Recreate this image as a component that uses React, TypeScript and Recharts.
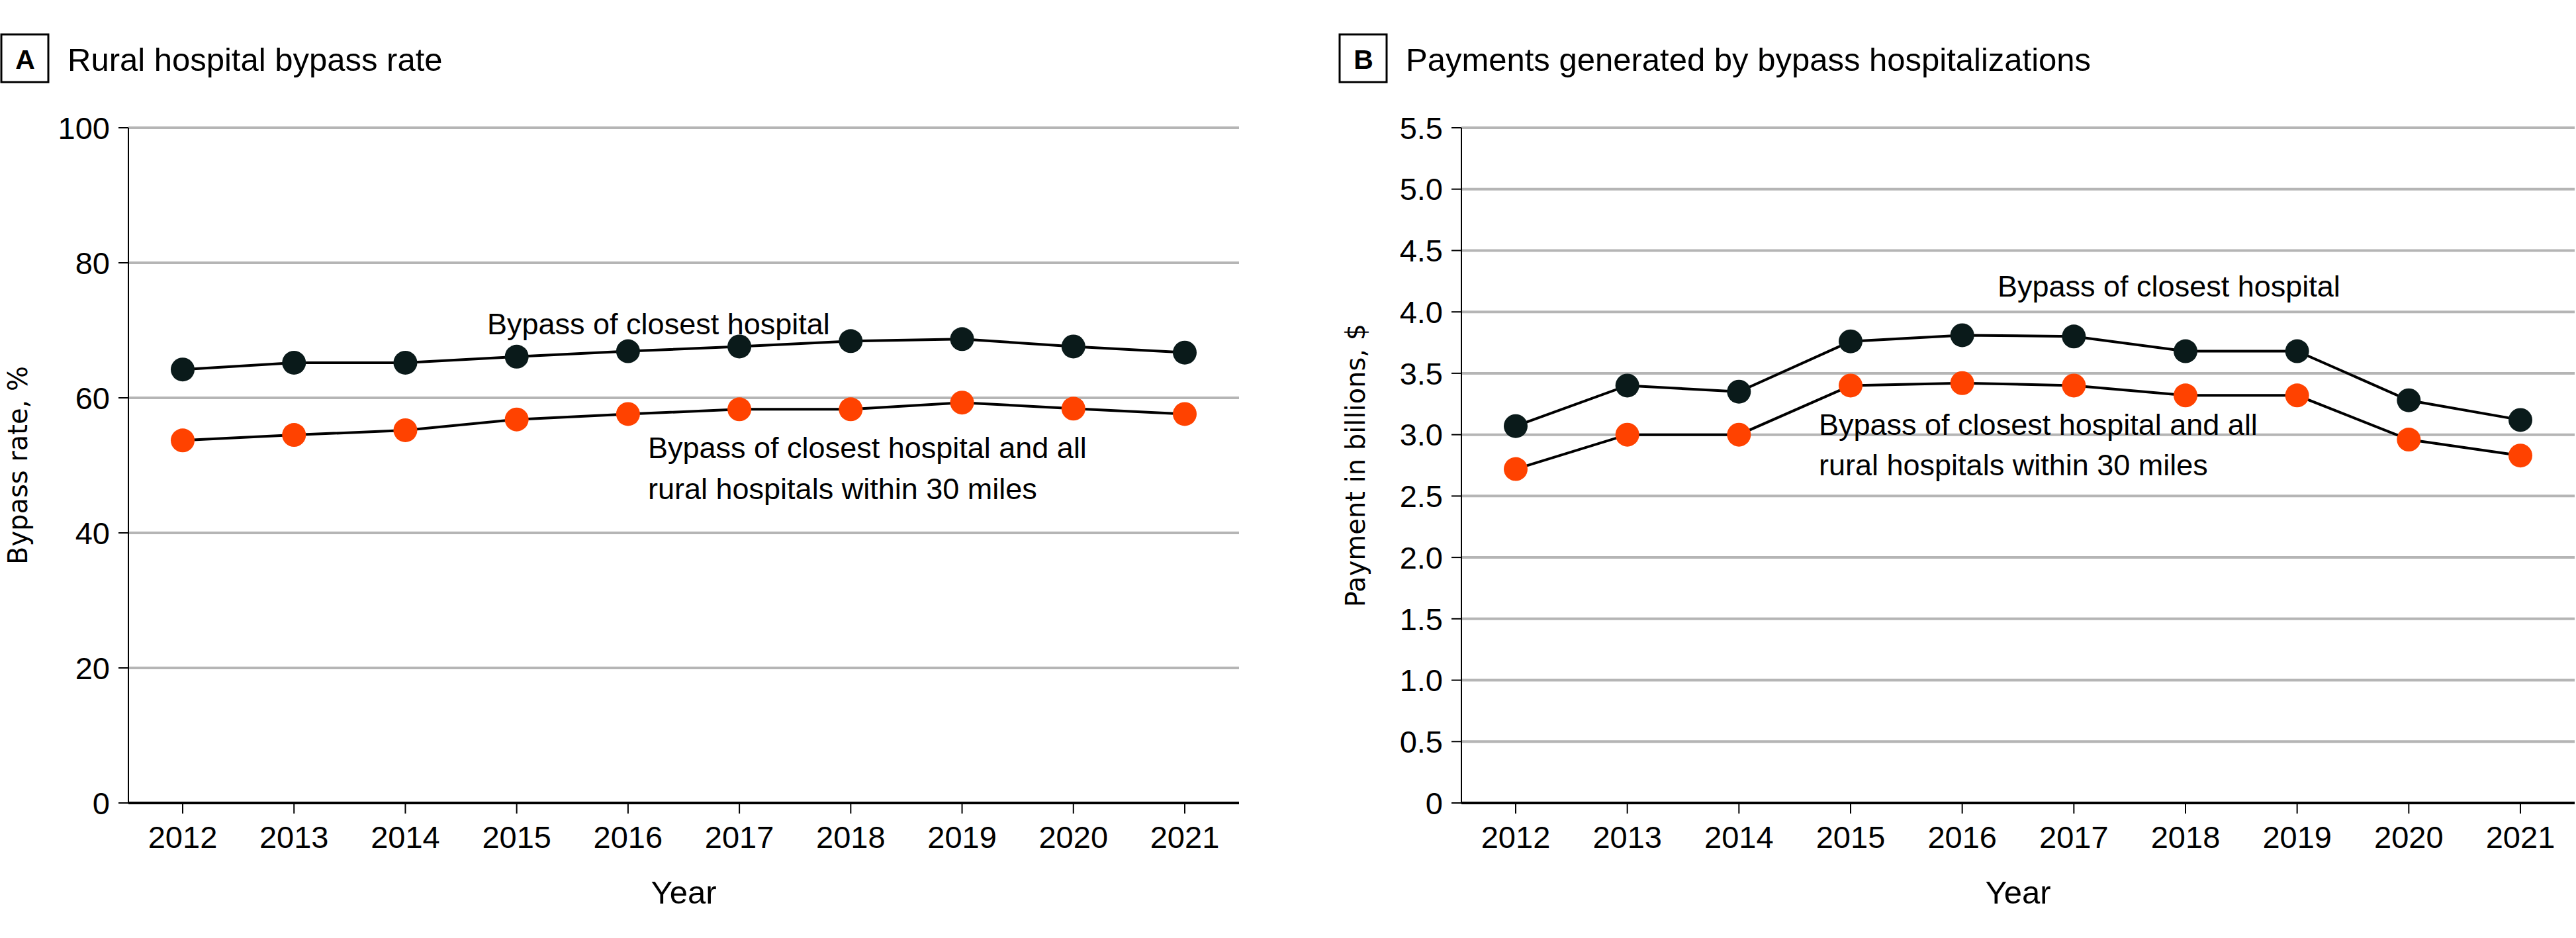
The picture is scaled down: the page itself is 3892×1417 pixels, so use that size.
import { CartesianGrid, Line, LineChart, XAxis, YAxis } from "recharts";

const years = ["2012", "2013", "2014", "2015", "2016", "2017", "2018", "2019", "2020", "2021"];

// panel A, bypass rate, %
const rateClosest = [64.2, 65.2, 65.2, 66.1, 66.9, 67.6, 68.4, 68.7, 67.6, 66.7];
const rateAllWithin30 = [53.7, 54.5, 55.2, 56.8, 57.6, 58.3, 58.3, 59.3, 58.4, 57.6];
const rateTicks = [0, 20, 40, 60, 80, 100];

// panel B, payment in billions, $
const paymentClosest = [3.07, 3.4, 3.35, 3.76, 3.81, 3.8, 3.68, 3.68, 3.28, 3.12];
const paymentAllWithin30 = [2.72, 3.0, 3.0, 3.4, 3.42, 3.4, 3.32, 3.32, 2.96, 2.83];
const paymentTicks = [0, 0.5, 1, 1.5, 2, 2.5, 3, 3.5, 4, 4.5, 5, 5.5];

const rateData = years.map((year, i) => ({
  year,
  closest: rateClosest[i],
  all: rateAllWithin30[i],
}));

const paymentData = years.map((year, i) => ({
  year,
  closest: paymentClosest[i],
  all: paymentAllWithin30[i],
}));

const FONT = "'Liberation Sans', Arial, sans-serif";
const LABEL_FONT = "'DejaVu Sans', Verdana, sans-serif";
const DARK = "#0a1a1a";
const ORANGE = "#ff4200";
const GRID = "#b5b5b5";

const tickStyle = { fontFamily: FONT, fontSize: 47, fill: "#000" };

interface PanelProps {
  data: { year: string; closest: number; all: number }[];
  ticks: number[];
  domainMax: number;
  width: number;
  left: number;
  yAxisWidth: number;
  rightMargin: number;
  yLabel: string;
  yLabelX: number;
  formatTick: (v: number) => string;
}

function Panel({
  data,
  ticks,
  domainMax,
  width,
  left,
  yAxisWidth,
  rightMargin,
  yLabel,
  yLabelX,
  formatTick,
}: PanelProps) {
  return (
    <div style={{ position: "absolute", left, top: 0 }}>
      <LineChart
        width={width}
        height={1417}
        data={data}
        margin={{ top: 193, right: rightMargin, bottom: 124, left: 0 }}
      >
        <CartesianGrid vertical={false} stroke={GRID} strokeWidth={4} />
        <XAxis
          dataKey="year"
          height={80}
          padding={{ left: 82, right: 82 }}
          axisLine={{ stroke: "#000", strokeWidth: 4 }}
          tickLine={{ stroke: "#000", strokeWidth: 2 }}
          tickSize={16}
          tickMargin={19}
          tick={tickStyle}
          interval={0}
          label={{
            content: (props: any) => {
              const vb = props.viewBox || {};
              return (
                <text
                  x={vb.x + vb.width / 2}
                  y={vb.y + 152}
                  textAnchor="middle"
                  fontFamily={FONT}
                  fontSize={49}
                  fill="#000"
                >
                  Year
                </text>
              );
            },
          }}
        />
        <YAxis
          type="number"
          domain={[0, domainMax]}
          ticks={ticks}
          interval={0}
          width={yAxisWidth}
          axisLine={{ stroke: "#000", strokeWidth: 2 }}
          tickLine={{ stroke: "#000", strokeWidth: 2 }}
          tickSize={15}
          tickMargin={13}
          tick={tickStyle}
          tickFormatter={formatTick}
          label={{
            content: (props: any) => {
              const vb = props.viewBox || {};
              const cy = vb.y + vb.height / 2;
              return (
                <text
                  x={yLabelX}
                  y={cy}
                  textAnchor="middle"
                  transform={`rotate(-90, ${yLabelX}, ${cy})`}
                  fontFamily={LABEL_FONT}
                  fontSize={40}
                  fill="#000"
                >
                  {yLabel}
                </text>
              );
            },
          }}
        />
        <Line
          type="linear"
          dataKey="closest"
          stroke="#000"
          strokeWidth={4}
          dot={{ r: 18, fill: DARK, stroke: "none", strokeWidth: 0 }}
          activeDot={false}
          isAnimationActive={false}
        />
        <Line
          type="linear"
          dataKey="all"
          stroke="#000"
          strokeWidth={4}
          dot={{ r: 18, fill: ORANGE, stroke: "none", strokeWidth: 0 }}
          activeDot={false}
          isAnimationActive={false}
        />
      </LineChart>
    </div>
  );
}

function PanelTitle({ x, letter, title }: { x: number; letter: string; title: string }) {
  return (
    <g>
      <rect x={x + 2} y={52} width={71} height={72} fill="#fff" stroke="#000" strokeWidth={3} />
      <text
        x={x + 38}
        y={104}
        textAnchor="middle"
        fontFamily={FONT}
        fontWeight={700}
        fontSize={41}
        fill="#000"
      >
        {letter}
      </text>
      <text x={x + 102} y={107} fontFamily={FONT} fontSize={49} fill="#000">
        {title}
      </text>
    </g>
  );
}

const annotation = { fontFamily: FONT, fontSize: 45, fill: "#000" };

export default function App() {
  return (
    <div
      style={{
        position: "absolute",
        left: 0,
        top: 0,
        width: 3892,
        height: 1417,
        background: "#fff",
        overflow: "hidden",
      }}
    >
      <Panel
        data={rateData}
        ticks={rateTicks}
        domainMax={100}
        width={1900}
        left={0}
        yAxisWidth={194}
        rightMargin={28}
        yLabel="Bypass rate, %"
        yLabelX={41}
        formatTick={(v) => String(v)}
      />
      <Panel
        data={paymentData}
        ticks={paymentTicks}
        domainMax={5.5}
        width={1942}
        left={1950}
        yAxisWidth={258}
        rightMargin={2}
        yLabel="Payment in billions, $"
        yLabelX={112}
        formatTick={(v) => (v === 0 ? "0" : v.toFixed(1))}
      />
      <svg
        width={3892}
        height={1417}
        style={{ position: "absolute", left: 0, top: 0, pointerEvents: "none" }}
      >
        <PanelTitle x={0} letter="A" title="Rural hospital bypass rate" />
        <PanelTitle x={2022} letter="B" title="Payments generated by bypass hospitalizations" />

        <text x={736} y={505} {...annotation}>Bypass of closest hospital</text>
        <text {...annotation}>
          <tspan x={979} y={692}>Bypass of closest hospital and all</tspan>
          <tspan x={979} y={754}>rural hospitals within 30 miles</tspan>
        </text>

        <text x={3018} y={448} {...annotation}>Bypass of closest hospital</text>
        <text {...annotation}>
          <tspan x={2748} y={657}>Bypass of closest hospital and all</tspan>
          <tspan x={2748} y={718}>rural hospitals within 30 miles</tspan>
        </text>
      </svg>
    </div>
  );
}
